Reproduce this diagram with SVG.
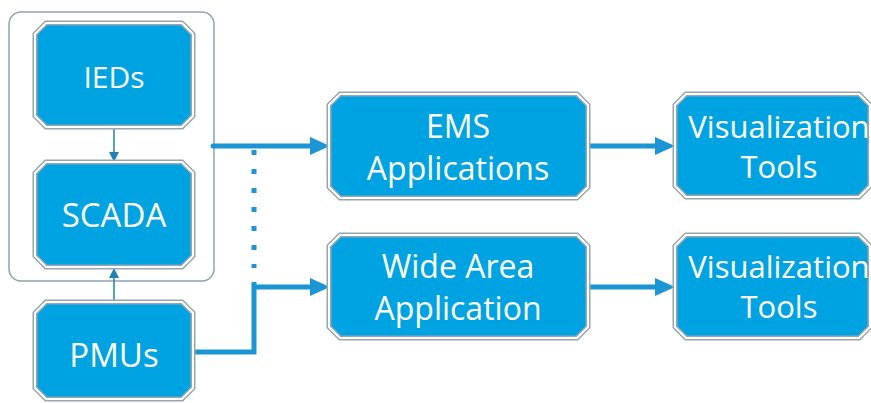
<svg xmlns="http://www.w3.org/2000/svg" width="871" height="403" viewBox="0 0 871 403">
<style>
.box{fill:#00a3e2;stroke:#96a6b1;stroke-width:5;stroke-linejoin:miter}
.inner{fill:none;stroke:#ffffff;stroke-width:2}
.lbl{font-family:"Open Sans","Liberation Sans",sans-serif;font-size:32px;fill:#ffffff;text-anchor:middle}
.thick{fill:none;stroke:#1b95d3;stroke-width:5}
.thin{fill:none;stroke:#1f80b4;stroke-width:1.5}
</style>
<defs>
<marker id="ah" markerUnits="userSpaceOnUse" viewBox="0 0 20 18" refX="5" refY="9" markerWidth="20" markerHeight="18" orient="auto">
<path d="M0,0 L20,9 L0,18 z" fill="#1b95d3"/>
</marker>
<marker id="ahs" markerUnits="userSpaceOnUse" viewBox="0 0 10 10" refX="10" refY="5" markerWidth="10" markerHeight="10" orient="auto">
<path d="M0,0 L10,5 L0,10 z" fill="#1f80b4"/>
</marker>
</defs>
<rect id="container" x="9" y="12" width="205" height="269" rx="12" fill="#ffffff" stroke="#8fa2b0" stroke-width="1.5"/>
<g id="connectors">
<path class="thin" d="M114,127 V162" marker-end="url(#ahs)"/>
<path class="thin" d="M114,302 V268" marker-end="url(#ahs)"/>
<path class="thick" d="M213,146 H315" stroke-linecap="round" marker-end="url(#ah)"/>
<path class="thick" d="M254,150 V268" stroke-dasharray="5 14"/>
<path class="thick" d="M190,352 H254 V282"/>
<path class="thick" d="M254,287 H315" marker-end="url(#ah)"/>
<path class="thick" d="M585,146 H660" stroke-linecap="round" marker-end="url(#ah)"/>
<path class="thick" d="M585,287 H660" stroke-linecap="round" marker-end="url(#ah)"/>
</g>
<g id="ieds">
<polygon class="box" points="46,23 182,23 193,34 193,116 182,127 46,127 35,116 35,34"/>
<polygon class="inner" points="46,23 182,23 193,34 193,116 182,127 46,127 35,116 35,34"/>
<text class="lbl" x="114" y="88" style="font-size:30px">IEDs</text>
</g>
<g id="scada">
<polygon class="box" points="46,162 182,162 193,173 193,256 182,267 46,267 35,256 35,173"/>
<polygon class="inner" points="46,162 182,162 193,173 193,256 182,267 46,267 35,256 35,173"/>
<text class="lbl" x="114" y="227" style="font-size:33px">SCADA</text>
</g>
<g id="pmus">
<polygon class="box" points="46,302 182,302 193,313 193,388 182,399 46,399 35,388 35,313"/>
<polygon class="inner" points="46,302 182,302 193,313 193,388 182,399 46,399 35,388 35,313"/>
<text class="lbl" x="114" y="367" style="font-size:33px">PMUs</text>
</g>
<g id="ems">
<polygon class="box" points="340,94 577,94 588,105 588,187 577,198 340,198 329,187 329,105"/>
<polygon class="inner" points="340,94 577,94 588,105 588,187 577,198 340,198 329,187 329,105"/>
<text class="lbl" x="458" y="138">EMS</text>
<text class="lbl" x="458" y="180">Applications</text>
</g>
<g id="widearea">
<polygon class="box" points="340,235 577,235 588,246 588,327 577,338 340,338 329,327 329,246"/>
<polygon class="inner" points="340,235 577,235 588,246 588,327 577,338 340,338 329,327 329,246"/>
<text class="lbl" x="458" y="278">Wide Area</text>
<text class="lbl" x="458" y="320">Application</text>
</g>
<g id="vis1">
<polygon class="box" points="686,94 859,94 870,105 870,186 859,197 686,197 675,186 675,105"/>
<polygon class="inner" points="686,94 859,94 870,105 870,186 859,197 686,197 675,186 675,105"/>
<text class="lbl" x="779" y="138" style="font-size:31px">Visualization</text>
<text class="lbl" x="779" y="178" style="font-size:31px">Tools</text>
</g>
<g id="vis2">
<polygon class="box" points="686,235 859,235 870,246 870,327 859,338 686,338 675,327 675,246"/>
<polygon class="inner" points="686,235 859,235 870,246 870,327 859,338 686,338 675,327 675,246"/>
<text class="lbl" x="779" y="278" style="font-size:31px">Visualization</text>
<text class="lbl" x="779" y="318" style="font-size:31px">Tools</text>
</g>
</svg>
